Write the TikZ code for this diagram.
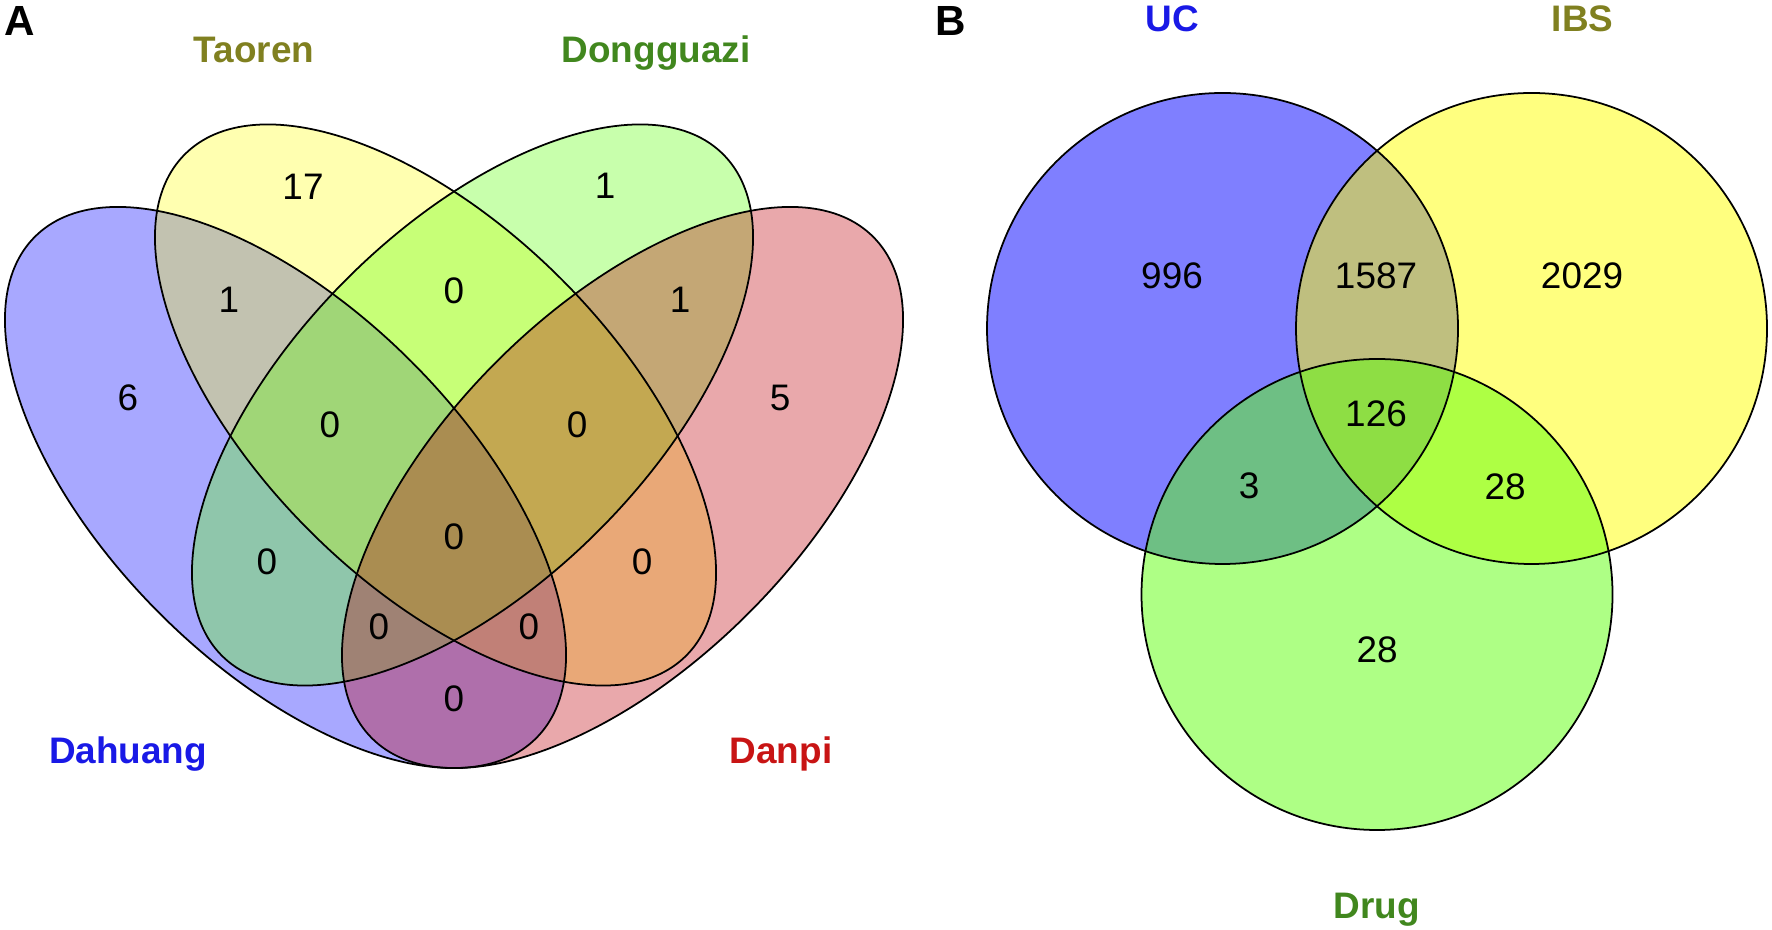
\documentclass[tikz,border=0pt]{standalone}
\usepackage{fontspec}
\setmainfont{Liberation Sans}
\usetikzlibrary{positioning}

\definecolor{vblue}{RGB}{0,0,255}
\definecolor{vyellow}{RGB}{255,255,0}
\definecolor{vgreen}{RGB}{93,255,11}
\definecolor{vred}{RGB}{190,0,10}
\definecolor{txtblue}{RGB}{25,25,230}
\definecolor{txtolive}{RGB}{128,128,32}
\definecolor{txtgreen}{RGB}{65,135,30}
\definecolor{txtred}{RGB}{200,20,20}

\tikzset{
  setline/.style={draw=black, line width=0.5pt},
  count/.style={font=\fontsize{10.5}{12}\selectfont, inner sep=0pt},
  setname/.style={font=\fontsize{10.5}{12}\selectfont\bfseries, anchor=base, inner sep=0pt},
  panel/.style={font=\fontsize{12}{14}\selectfont\bfseries, anchor=base, inner sep=0pt}
}

\begin{document}
\begin{tikzpicture}[x=0.1mm, y=-0.1mm]
    \useasboundingbox (0,0) rectangle (1772,930);

    % A: four ellipses
    \fill[vblue,   fill opacity=.34, rotate around={-45:(285.5,487.5)}] (285.5,487.5) ellipse [x radius=354.5, y radius=178];
    \fill[vyellow, fill opacity=.31, rotate around={-45:(435.5,405)}]   (435.5,405)   ellipse [x radius=354.5, y radius=178];
    \fill[vgreen,  fill opacity=.34, rotate around={45:(472.5,405)}]    (472.5,405)   ellipse [x radius=354.5, y radius=178];
    \fill[vred,    fill opacity=.34, rotate around={45:(622.5,487.5)}]  (622.5,487.5) ellipse [x radius=354.5, y radius=178];
    \draw[setline, rotate around={-45:(285.5,487.5)}] (285.5,487.5) ellipse [x radius=354.5, y radius=178];
    \draw[setline, rotate around={-45:(435.5,405)}]   (435.5,405)   ellipse [x radius=354.5, y radius=178];
    \draw[setline, rotate around={45:(472.5,405)}]    (472.5,405)   ellipse [x radius=354.5, y radius=178];
    \draw[setline, rotate around={45:(622.5,487.5)}]  (622.5,487.5) ellipse [x radius=354.5, y radius=178];

    \node[panel]                  (pa)  at (20,36)   {A};
    \node[setname, txtolive]      (tao) at (254,63)  {Taoren};
    \node[setname, txtgreen]      (don) at (656,63)  {Dongguazi};
    \node[setname, txtblue]       (dah) at (128,763) {Dahuang};
    \node[setname, txtred]        (dan) at (781,763) {Danpi};

    \node[count] (n1)    at (128,398) {6};
    \node[count] (n2)    at (303,187) {17};
    \node[count] (n3)    at (605,186) {1};
    \node[count] (n4)    at (780,398) {5};
    \node[count] (n12)   at (229,300) {1};
    \node[count] (n23)   at (454,291) {0};
    \node[count] (n34)   at (680,300) {1};
    \node[count] (n123)  at (330,425) {0};
    \node[count] (n234)  at (577,425) {0};
    \node[count] (n13)   at (267,562) {0};
    \node[count] (n1234) at (454,537) {0};
    \node[count] (n24)   at (642,562) {0};
    \node[count] (n134)  at (379,627) {0};
    \node[count] (n124)  at (529,627) {0};
    \node[count] (n14)   at (454,699) {0};

    % B: three circles
    \fill[vblue,   fill opacity=.5] (1222.5,328.5) circle [radius=235.5];
    \fill[vyellow, fill opacity=.5] (1531.5,328.5) circle [radius=235.5];
    \fill[vgreen,  fill opacity=.5] (1377,594.5)   circle [radius=235.5];
    \draw[setline] (1222.5,328.5) circle [radius=235.5];
    \draw[setline] (1531.5,328.5) circle [radius=235.5];
    \draw[setline] (1377,594.5)   circle [radius=235.5];

    \node[panel]             (pb)   at (951,36)     {B};
    \node[setname, txtblue]  (uc)   at (1172.5,32)  {UC};
    \node[setname, txtolive] (ibs)  at (1582.5,32)  {IBS};
    \node[setname, txtgreen] (drug) at (1376.5,918) {Drug};

    \node[count] (m1)   at (1172,276) {996};
    \node[count] (m12)  at (1376,276) {1587};
    \node[count] (m2)   at (1582,276) {2029};
    \node[count] (m123) at (1376,414) {126};
    \node[count] (m13)  at (1249,486) {3};
    \node[count] (m23)  at (1505,487) {28};
    \node[count] (m3)   at (1377,650) {28};
\end{tikzpicture}
\end{document}
